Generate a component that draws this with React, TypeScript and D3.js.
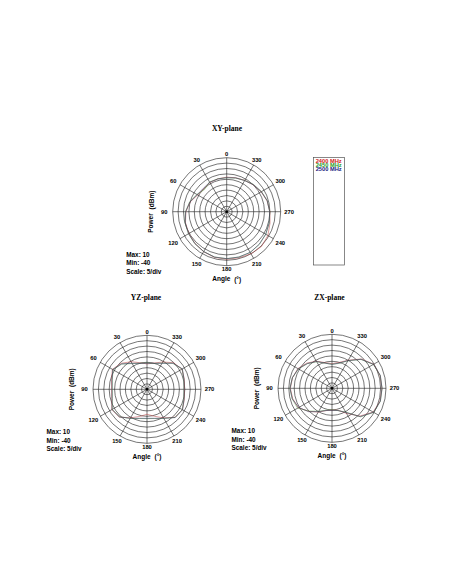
import React from 'react';
import * as d3 from 'd3';

// measurement angles (deg, counter-clockwise from top)
const angles = [0, 15, 30, 45, 60, 75, 90, 105, 120, 135, 150, 165, 180, 195, 210, 225, 240, 255, 270, 285, 300, 315, 330, 345];
const tickAngles = [0, 30, 60, 90, 120, 150, 180, 210, 240, 270, 300, 330];
const ringLevels = [-35, -30, -25, -20, -15, -10, -5, 0, 5, 10];
const frequencies = ['2400 MHz', '2450 MHz', '2500 MHz'];
const colors = ['#d02020', '#2a9a2a', '#1a1a80'];
const lineColors = ['#b83a3a', '#5a9a4a', '#2a2a60'];

// power in dBm per angle
const xy2400 = [-8, -8.5, -8.8, -10, -9, -5, -2.2, -0.5, 0.5, 1.5, 2.8, 3.8, 4, 4.2, 5, 5.6, 4, 1.5, 0, -1.3, -3.2, -5, -6.5, -7.5];
const xy2450 = [-8.6, -8.4, -8.2, -11, -8, -4.5, -1.8, 0, 0.9, 1.8, 2.6, 3.4, 3.5, 3.4, 3.6, 2.8, 1.8, 0.8, -0.1, -1, -2.8, -4.6, -6.6, -7.8];
const xy2500 = [-8.5, -8.6, -8.5, -9.4, -8.5, -4.8, -2, -0.2, 0.7, 1.7, 2.6, 3.5, 3.5, 3.5, 3.5, 2.6, 1.7, 0.7, -0.2, -1.1, -3, -4.8, -6.7, -7.6];

const yz2400 = [-16.5, -14.5, -10.5, -6.0, -3.0, -6.0, -7.2, -6.2, -2.4, -3.6, -9.5, -14.0, -16.9, -14.2, -9.4, -3.4, -2.2, -4.2, -5.4, -4.2, -2.6, -5.2, -10.8, -14.8];
const yz2450 = [-15.6, -15.0, -12.5, -7.0, -3.6, -6.8, -7.9, -6.8, -2.9, -4.1, -8.8, -12.0, -12.8, -12.0, -8.8, -3.2, -2.3, -4.7, -5.9, -4.7, -2.4, -6.1, -12.0, -15.3];
const yz2500 = [-15.9, -15.1, -12.2, -6.7, -3.4, -6.5, -7.6, -6.5, -2.6, -3.9, -9.0, -12.2, -13.1, -12.2, -9.0, -3.0, -2.0, -4.5, -5.7, -4.5, -2.2, -5.9, -12.2, -15.1];

const zx2400 = [-17.2, -15.4, -11.0, -7.0, -3.5, -2.2, -1.4, -2.4, -4.0, -9.8, -14.6, -18.6, -19.8, -19.0, -13.2, -3.6, 4.0, 6.0, 6.2, 6.0, 4.6, -1.6, -10.0, -15.2];
const zx2450 = [-17.8, -16.0, -11.6, -7.8, -4.2, -2.0, -1.0, -1.8, -3.2, -10.2, -15.4, -19.0, -20.0, -18.6, -14.6, -2.6, 4.6, 6.4, 6.4, 6.2, 4.2, -2.2, -10.6, -16.2];
const zx2500 = [-17.8, -15.9, -11.3, -7.6, -3.9, -2.0, -1.1, -2.0, -4.5, -9.4, -15.0, -18.7, -19.6, -18.7, -14.1, -3.0, 4.4, 6.3, 6.3, 6.3, 4.4, -2.0, -10.4, -15.9];

const R = 54;
const rScale = d3.scaleLinear().domain([-40, 10]).range([0, R]);
const sans = '"Liberation Sans", Arial, sans-serif';
const serif = '"Liberation Serif", "Times New Roman", serif';
const toRad = (deg: number) => (deg * Math.PI) / 180;

interface PolarProps {
  cx: number;
  cy: number;
  title: string;
  titleX: number;
  titleY: number;
  series: number[][];
}

function PolarPlot({ cx, cy, title, titleX, titleY, series }: PolarProps) {
  const line = d3.lineRadial<number>()
    .angle((_, i) => -toRad(angles[i]))
    .radius(d => rScale(d))
    .curve(d3.curveLinearClosed);

  return (
    <g>
      <text x={titleX} y={titleY} textAnchor="middle" dominantBaseline="central"
        fontFamily={serif} fontWeight="bold" fontSize={7.5} fill="#000">{title}</text>

      <g transform={`translate(${cx},${cy})`}>
        {ringLevels.map(v => (
          <circle key={v} r={rScale(v)} fill="none" stroke="#1a1a1a" strokeWidth={0.6} />
        ))}
        {tickAngles.map(a => (
          <line key={a} x1={0} y1={0}
            x2={-R * Math.sin(toRad(a))} y2={-R * Math.cos(toRad(a))}
            stroke="#1a1a1a" strokeWidth={0.6} />
        ))}
        <circle r={1.3} fill="#000" />

        {series.map((s, i) => (
          <path key={i} d={line(s) ?? ''} fill="none" stroke={lineColors[i]} strokeWidth={0.5} />
        ))}

        {tickAngles.map(a => {
          const rl = R + 3.7 + 4.8 * Math.abs(Math.sin(toRad(a)));
          return (
            <text key={a} x={-rl * Math.sin(toRad(a))} y={-rl * Math.cos(toRad(a))}
              textAnchor="middle" dominantBaseline="central"
              fontFamily={sans} fontWeight="bold" fontSize={5.8} fill="#000">{a}</text>
          );
        })}

        <text x={0} y={67} textAnchor="middle" dominantBaseline="central"
          fontFamily={sans} fontWeight="bold" fontSize={6.5} fill="#000">
          Angle <tspan dx={2}>(°)</tspan>
        </text>
        <text transform="translate(-76,0) rotate(-90)" textAnchor="middle" dominantBaseline="central"
          fontFamily={sans} fontWeight="bold" fontSize={6.5} fill="#000">
          Power <tspan dx={2}>(dBm)</tspan>
        </text>

        {['Max: 10', 'Min: -40', 'Scale: 5/div'].map((t, i) => (
          <text key={t} x={-100.5} y={42.5 + i * 8.6} dominantBaseline="central"
            fontFamily={sans} fontWeight="bold" fontSize={6.4} fill="#000">{t}</text>
        ))}
      </g>
    </g>
  );
}

export default function App() {
  return (
    <svg width={452} height={584} style={{ position: 'absolute', left: 0, top: 0, background: '#fff' }}>
      <PolarPlot cx={226.7} cy={211.7} title="XY-plane" titleX={227} titleY={128.3}
        series={[xy2400, xy2450, xy2500]} />
      <PolarPlot cx={147} cy={389.3} title="YZ-plane" titleX={146} titleY={297.7}
        series={[yz2400, yz2450, yz2500]} />
      <PolarPlot cx={332} cy={388.3} title="ZX-plane" titleX={329.5} titleY={297.7}
        series={[zx2400, zx2450, zx2500]} />

      {/* legend */}
      <rect x={313.5} y={157.5} width={31} height={107.5} fill="none" stroke="#555" strokeWidth={0.7} />
      {frequencies.map((f, i) => (
        <text key={f} x={315.7} y={161.7 + i * 4} dominantBaseline="central"
          fontFamily={sans} fontWeight="bold" fontSize={4.6} fill={colors[i]}
          textLength={26} lengthAdjust="spacingAndGlyphs">{f}</text>
      ))}
    </svg>
  );
}
